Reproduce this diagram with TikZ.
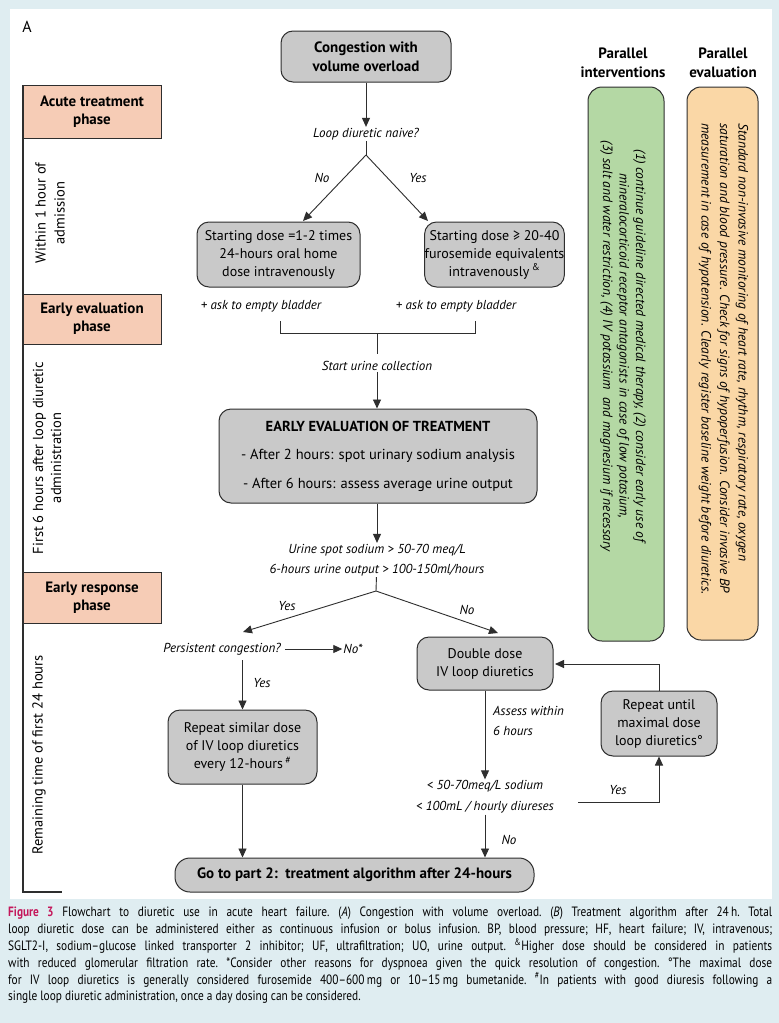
\documentclass[tikz,border=0pt]{standalone}
\usepackage{fontspec}
\setmainfont{PT Sans}
\newfontfamily\capfont[FakeStretch=0.84]{PT Sans}
\usetikzlibrary{arrows.meta,calc}
\definecolor{pagebg}{HTML}{DFEDF1}
\definecolor{boxgray}{HTML}{C9C9C9}
\definecolor{salmon}{HTML}{F6CCB6}
\definecolor{greenbox}{HTML}{B4D8A4}
\definecolor{orangebox}{HTML}{FAD7A6}
\definecolor{linec}{HTML}{2E2E2E}
\definecolor{figred}{HTML}{C4175B}
\begin{document}
\begin{tikzpicture}[x=1pt,y=-1pt,
  box/.style={draw=linec, fill=boxgray, rounded corners=12pt, line width=1pt, align=center, inner sep=0pt, font=\fontsize{14}{18}\selectfont},
  phase/.style={draw=linec, fill=salmon, line width=1pt, align=center, minimum width=138pt, inner sep=0pt, font=\bfseries\fontsize{15}{18}\selectfont},
  lbl/.style={font=\itshape\fontsize{13}{20}\selectfont, inner sep=1pt, align=center},
  arr/.style={-{Triangle[length=9pt,width=8pt]}, line width=0.9pt, draw=linec},
  ln/.style={line width=0.9pt, draw=linec},
  vlab/.style={rotate=90, align=center, font=\fontsize{14.5}{19}\selectfont, inner sep=0pt},
  side/.style={rotate=-90, draw=linec, line width=1pt, rounded corners=14pt, inner sep=0pt},
  sidetext/.style={rotate=-90, inner sep=0pt, font=\itshape\fontsize{13.5}{16.5}\selectfont},
  head/.style={align=center, font=\bfseries\fontsize{15}{19}\selectfont, inner sep=0pt}
]
\useasboundingbox (0,0) rectangle (779,1023);
\fill[pagebg] (0,0) rectangle (779,1023);
\fill[white] (10,9) rectangle (772,899);

\node[font=\fontsize{16}{18}\selectfont, inner sep=0pt] (lettA) at (27,27) {A};

% left column
\draw[linec, line width=1.6pt] (23,85) -- (23,892) -- (62,892);
\node[phase, minimum height=53pt] (ph1) at (92,111.5) {Acute treatment\\phase};
\node[phase, minimum height=50pt] (ph2) at (92,319) {Early evaluation\\phase};
\node[phase, minimum height=51pt] (ph3) at (92,597.5) {Early response\\phase};
\node[vlab] (v1) at (50,213) {Within 1 hour of\\admission};
\node[vlab, font=\fontsize{14.5}{18}\selectfont] (v2) at (47,458) {First 6 hours after loop diuretic\\administration};
\node[vlab] (v3) at (39,755) {Remaining time of first 24 hours};

% main flow
\node[box, minimum width=170pt, minimum height=51pt, font=\bfseries\fontsize{15}{19}\selectfont] (cong) at (366,56.5) {Congestion with\\volume overload};
\node[lbl] (naive) at (366,134) {Loop diuretic naive?};
\draw[arr] (cong) -- (naive);
\coordinate (ap1) at (366,155);
\coordinate (t1) at (303,221);
\coordinate (t2) at (428,221);
\draw[ln] (naive) -- (ap1);
\draw[arr] (ap1) -- (t1);
\draw[arr] (ap1) -- (t2);
\node[lbl] (no1) at (322,178) {No};
\node[lbl] (yes1) at (418,178) {Yes};

\node[box, minimum width=163pt, minimum height=65pt] (sl) at (278.5,254.5) {Starting dose =1-2 times\\24-hours oral home\\dose intravenously};
\node[box, minimum width=123pt, minimum height=65pt] (sr) at (494.5,254.5) {Starting dose ≥ 20-40\\furosemide equivalents\\intravenously\,\textsuperscript{\&}};

\node[lbl] (ask1) at (261,306) {+ ask to empty bladder};
\node[lbl] (ask2) at (456,306) {+ ask to empty bladder};
\coordinate (m1) at (280,321);
\coordinate (m2) at (475,321);
\coordinate (m3) at (377,333);
\coordinate (m4) at (377,354);
\draw[ln] (m1) -- (280,333) -- (475,333) -- (m2);
\draw[ln] (m3) -- (m4);
\node[lbl] (urine) at (377,366) {Start urine collection};

\node[box, minimum width=318pt, minimum height=94pt, font=\fontsize{14.5}{28.5}\selectfont] (eval) at (378,456) {\textbf{EARLY EVALUATION OF TREATMENT}\\- After 2 hours: spot urinary sodium analysis\\- After 6 hours: assess average urine output};
\draw[arr] (urine) -- (urine |- eval.north);

\node[lbl] (crit) at (377,560) {Urine spot sodium > 50-70 meq/L\\6-hours urine output > 100-150ml/hours};
\draw[arr] (eval.south -| urine) -- (crit);
\coordinate (ap2) at (376,591);
\coordinate (t3) at (243,632);
\coordinate (t4) at (498,633);
\draw[ln] (crit) -- (ap2);
\draw[arr] (ap2) -- (t3);
\draw[arr] (ap2) -- (t4);
\node[lbl] (yes2) at (287,606) {Yes};
\node[lbl] (no2) at (467,610) {No};

\node[lbl] (persist) at (222,649) {Persistent congestion?};
\node[lbl] (nostar) at (353,649) {No*};
\draw[arr, shorten <=3pt] (persist) -- (nostar);
\node[box, minimum width=149pt, minimum height=74pt] (rep) at (242.5,747) {Repeat similar dose\\of IV loop diuretics\\every 12-hours\,\textsuperscript{\#}};
\draw[arr, shorten <=4pt] (persist.south -| rep) -- (rep);
\node[lbl] (yes3) at (262,683) {Yes};

\node[box, minimum width=359pt, minimum height=34pt, rounded corners=15pt, font=\bfseries\fontsize{15}{18}\selectfont] (go) at (354.5,875) {Go to part 2:\ \ treatment algorithm after 24-hours};
\draw[arr] (rep) -- (rep |- go.north);

\node[box, minimum width=136pt, minimum height=53pt] (dd) at (485,663.5) {Double dose\\IV loop diuretics};
\node[lbl, align=left, anchor=west] (assess) at (492,721) {Assess within\\6 hours};
\node[lbl, font=\itshape\fontsize{13}{21}\selectfont] (crit2) at (485,797) {< 50-70meq/L sodium\\< 100mL / hourly diureses};
\draw[arr] (dd) -- (crit2);
\draw[arr] (crit2) -- (crit2 |- go.north);
\node[lbl] (no4) at (509,840) {No};

\node[box, minimum width=116pt, minimum height=65pt] (until) at (659,723.5) {Repeat until\\maximal dose\\loop diuretics°};
\coordinate (y1) at (578,802);
\draw[arr] (y1) -| (until);
\node[lbl] (yes4) at (618,790) {Yes};
\coordinate (bk) at (555,664);
\draw[arr] (until) |- (bk);

% parallel columns
\node[head] (h1) at (623,63) {Parallel\\interventions};
\node[head] (h2) at (723,63) {Parallel\\evaluation};
\node[side, fill=greenbox, minimum width=554pt, minimum height=76pt] (gb) at (626,364) {};
\node[sidetext, align=center] (gt) at (623,346) {(1) continue guideline directed medical therapy, (2) consider early use of\\mineralocorticoid receptor antagonists in case of low potasium,\\(3) salt and water restriction, (4) IV potassium\ \ and magnesium if necessary};
\node[side, fill=orangebox, minimum width=553pt, minimum height=71pt] (ob) at (722.5,363.5) {};
\node[sidetext, align=left, font=\itshape\fontsize{13.5}{18.5}\selectfont] (ot) at (723.5,359) {Standard non-invasive monitoring of heart rate, rhythm, respiratory rate, oxygen\\saturation and blood pressure. Check for signs of hypoperfusion. Consider invasive BP\\measurement in case of hypotension. Clearly register baseline weight before diuretics.};

% caption
\node[anchor=north west, inner sep=0pt, text width=764pt, align=justify, font=\capfont\fontsize{13.5}{16.8}\selectfont] (cap) at (8,907) {\frenchspacing{\bfseries\color{figred}Figure 3} Flowchart to diuretic use in acute heart failure. (\textit{A}) Congestion with volume overload. (\textit{B}) Treatment algorithm after 24\,h. Total\linebreak
loop diuretic dose can be administered either as continuous infusion or bolus infusion. BP, blood pressure; HF, heart failure; IV, intravenous;\linebreak
SGLT2-I, sodium–glucose linked transporter 2 inhibitor; UF, ultrafiltration; UO, urine output. \textsuperscript{\&}Higher dose should be considered in patients\linebreak
with reduced glomerular filtration rate. *Consider other reasons for dyspnoea given the quick resolution of congestion. °The maximal dose\linebreak
for IV loop diuretics is generally considered furosemide 400–600\,mg or 10–15\,mg bumetanide. \textsuperscript{\#}In patients with good diuresis following a\linebreak
single loop diuretic administration, once a day dosing can be considered.};
\end{tikzpicture}
\end{document}
